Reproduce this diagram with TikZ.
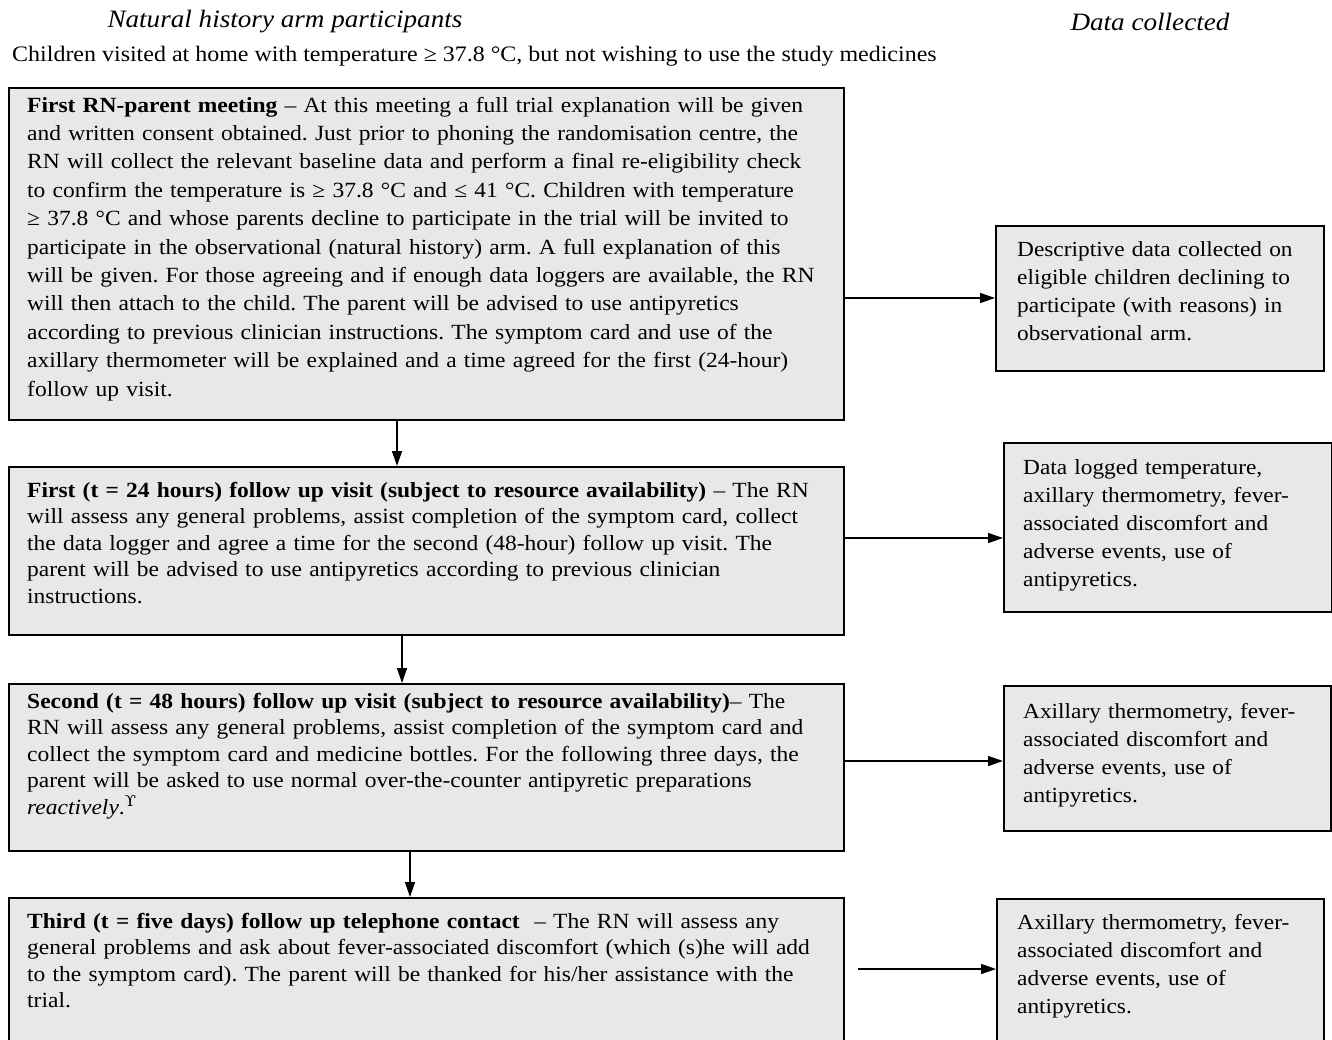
\documentclass[tikz,border=0pt]{standalone}
\usepackage{fontspec}
\setmainfont{Liberation Serif}[FakeStretch=1.085]
\newfontfamily\dvsfont{DejaVu Serif}[FakeStretch=1.085]
\usetikzlibrary{arrows.meta}
\definecolor{boxgray}{HTML}{E8E8E8}
\tikzset{
  box/.style={draw=black, line width=1.9pt, fill=boxgray, inner sep=0pt, anchor=north west},
  txt/.style={anchor=base west, inner sep=0pt, text width=830pt, align=left, font=\fontsize{21.65}{26.6}\selectfont},
  txtbig/.style={txt, font=\fontsize{21.65}{28.4}\selectfont},
  rtxt/.style={anchor=base west, inner sep=0pt, text width=320pt, align=left, font=\fontsize{21.5}{28}\selectfont},
  head/.style={inner sep=0pt, font=\fontsize{25}{30}\selectfont\itshape},
  sub/.style={inner sep=0pt, font=\fontsize{22.1}{26}\selectfont},
  arr/.style={line width=1.5pt, -{Triangle[length=15pt,width=10pt]}},
}
\begin{document}
\frenchspacing
\begin{tikzpicture}[x=1pt,y=-1pt]
\useasboundingbox (0,0) rectangle (1332,1039);
\clip (0,0) rectangle (1332,1039);

% headings
\node[head] (h1) at (285,22) {Natural history arm participants};
\node[head] (h2) at (1150,22) {Data collected};
\node[sub, anchor=base west] (sub) at (12,61) {Children visited at home with temperature ≥ 37.8 °C, but not wishing to use the study medicines};

% left boxes
\node[box, minimum width=835pt, minimum height=332pt] (b1) at (8,87) {};
\node[box, minimum width=835pt, minimum height=168pt] (b2) at (8,466) {};
\node[box, minimum width=835pt, minimum height=167pt] (b3) at (8,683) {};
\node[box, minimum width=835pt, minimum height=170pt] (b4) at (8,897) {};

% right boxes
\node[box, minimum width=328pt, minimum height=145pt] (r1) at (995,225) {};
\node[box, minimum width=328pt, minimum height=169pt] (r2) at (1003,442) {};
\node[box, minimum width=327pt, minimum height=145pt] (r3) at (1003,685) {};
\node[box, minimum width=327pt, minimum height=170pt] (r4) at (996,898) {};

% texts left
\node[txtbig] (t1) at (27,112) {\textbf{First RN-parent meeting} – At this meeting a full trial explanation will be given\\
and written consent obtained. Just prior to phoning the randomisation centre, the\\
RN will collect the relevant baseline data and perform a final re-eligibility check\\
to confirm the temperature is ≥ 37.8 °C and ≤ 41 °C. Children with temperature\\
≥ 37.8 °C and whose parents decline to participate in the trial will be invited to\\
participate in the observational (natural history) arm. A full explanation of this\\
will be given. For those agreeing and if enough data loggers are available, the RN\\
will then attach to the child. The parent will be advised to use antipyretics\\
according to previous clinician instructions. The symptom card and use of the\\
axillary thermometer will be explained and a time agreed for the first (24-hour)\\
follow up visit.};

\node[txt] (t2) at (27,497) {\textbf{First (t = 24 hours) follow up visit (subject to resource availability)} – The RN\\
will assess any general problems, assist completion of the symptom card, collect\\
the data logger and agree a time for the second (48-hour) follow up visit. The\\
parent will be advised to use antipyretics according to previous clinician\\
instructions.};

\node[txt] (t3) at (27,708) {\textbf{Second (t = 48 hours) follow up visit (subject to resource availability)}– The\\
RN will assess any general problems, assist completion of the symptom card and\\
collect the symptom card and medicine bottles. For the following three days, the\\
parent will be asked to use normal over-the-counter antipyretic preparations\\
\textit{reactively}.\textsuperscript{\dvsfont ϒ}};

\node[txt] (t4) at (27,928) {\textbf{Third (t = five days) follow up telephone contact}\ \ – The RN will assess any\\
general problems and ask about fever-associated discomfort (which (s)he will add\\
to the symptom card). The parent will be thanked for his/her assistance with the\\
trial.};

% texts right
\node[rtxt] (s1) at (1017,256) {Descriptive data collected on\\eligible children declining to\\participate (with reasons) in\\observational arm.};
\node[rtxt] (s2) at (1023,474) {Data logged temperature,\\axillary thermometry, fever-\\associated discomfort and\\adverse events, use of\\antipyretics.};
\node[rtxt] (s3) at (1023,718) {Axillary thermometry, fever-\\associated discomfort and\\adverse events, use of\\antipyretics.};
\node[rtxt] (s4) at (1017,929) {Axillary thermometry, fever-\\associated discomfort and\\adverse events, use of\\antipyretics.};

% connector helpers
\coordinate (y1) at (0,298);
\coordinate (y2) at (0,538);
\coordinate (y3) at (0,761);
\coordinate (y4) at (0,969);
\coordinate (s4start) at (858,969);
\coordinate (v1) at (397,0);
\coordinate (v2) at (402,0);
\coordinate (v3) at (410,0);

% horizontal connectors
\draw[arr] (b1.east |- y1) -- (r1.west |- y1);
\draw[arr] (b2.east |- y2) -- (r2.west |- y2);
\draw[arr] (b3.east |- y3) -- (r3.west |- y3);
\draw[arr] (s4start) -- (r4.west |- y4);

% vertical connectors
\draw[arr] (b1.south -| v1) -- (b2.north -| v1);
\draw[arr] (b2.south -| v2) -- (b3.north -| v2);
\draw[arr] (b3.south -| v3) -- (b4.north -| v3);
\end{tikzpicture}
\end{document}
